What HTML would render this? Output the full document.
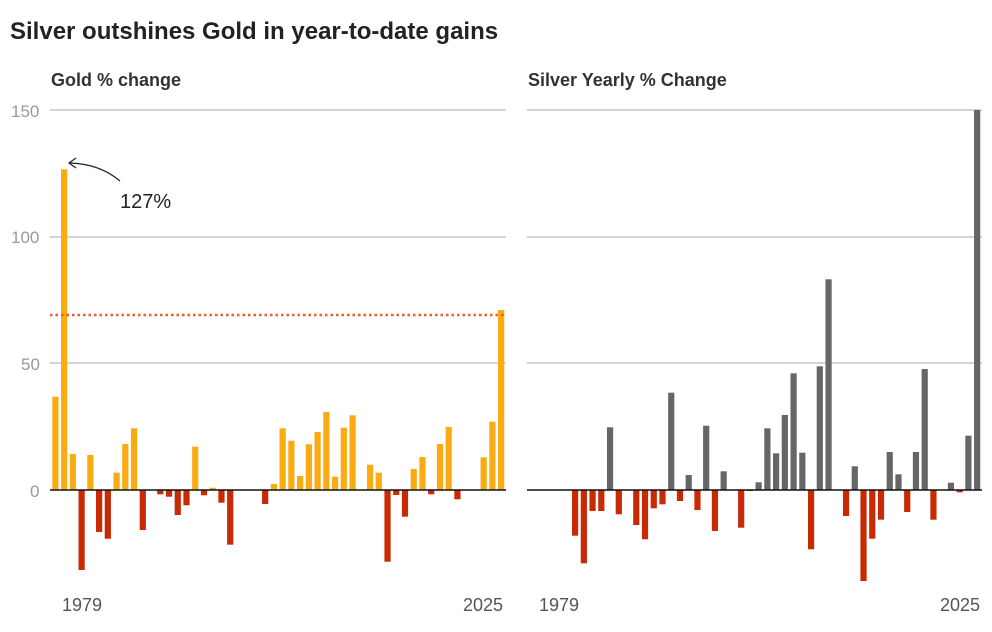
<!DOCTYPE html>
<html><head><meta charset="utf-8"><style>
html,body{margin:0;padding:0;background:#fff;}
svg{display:block;font-family:"Liberation Sans",sans-serif;}
</style></head><body>
<svg id="s" width="992" height="632" viewBox="0 0 992 632" xmlns="http://www.w3.org/2000/svg">
<text x="10" y="39" font-size="24" font-weight="bold" fill="#222">Silver outshines Gold in year-to-date gains</text>
<text x="51" y="86" font-size="18" font-weight="bold" fill="#333">Gold % change</text>
<text x="528" y="86" font-size="18" font-weight="bold" fill="#333">Silver Yearly % Change</text>
<g font-size="17" fill="#9a9a9a">
<text x="11" y="117">150</text>
<text x="11" y="243">100</text>
<text x="21" y="370">50</text>
<text x="30" y="497">0</text>
</g>
<g stroke="#bbb" stroke-width="1.3">
<line x1="50" y1="110" x2="506" y2="110"/><line x1="50" y1="237" x2="506" y2="237"/><line x1="50" y1="363" x2="506" y2="363"/>
<line x1="527" y1="110" x2="982" y2="110"/><line x1="527" y1="237" x2="982" y2="237"/><line x1="527" y1="363" x2="982" y2="363"/>
</g>
<g id="bars"></g>
<line x1="50" y1="315" x2="506" y2="315" stroke="#ee5a2a" stroke-width="2.5" stroke-dasharray="2.5 3"/>
<line x1="50" y1="490" x2="506" y2="490" stroke="#111" stroke-width="1.5"/>
<line x1="527" y1="490" x2="982" y2="490" stroke="#111" stroke-width="1.5"/>
<path d="M120 181 Q100 164 70 163" fill="none" stroke="#222" stroke-width="1.2"/>
<path d="M76 158 L69 163 L76 168" fill="none" stroke="#222" stroke-width="1.2"/>
<text x="120" y="208" font-size="20" fill="#222">127%</text>
<g font-size="18" fill="#555">
<text x="62" y="611">1979</text>
<text x="503" y="611" text-anchor="end">2025</text>
<text x="539" y="611">1979</text>
<text x="980" y="611" text-anchor="end">2025</text>
</g>
</svg>
<script>
var g=[396.7,169.3,454,570,455,532,538.7,472.7,444,428.3,530,490,494.3,496.7,515,505.3,446.7,495.3,487.7,502.7,544.7,490,490,490,504,484,428.3,440.7,476,444.3,432,412,476.7,427.7,415.3,490,464.7,472.7,561.7,495,516.7,469,457,494.3,444,427,499.3,490,490,457.3,421.7,310];
var s=[490,490,490,490,490,535.7,563.3,511,511,427.3,514.3,490,525,539.3,508.3,504.3,392.7,501,475,510,425.7,531,471.3,490,527.7,491,482.3,428.3,453.3,415,373.3,452.7,549.3,366.3,279.3,490,516,466.3,581,538.7,519.7,452,474.3,512,452,369,519.7,490,482.7,492.3,435.7,110];
var out="";
function add(arr,x0,pos){for(var i=0;i<arr.length;i++){var v=arr[i];if(Math.abs(v-490)<0.5)continue;var x=x0+i*8.74;var y=Math.min(v,490),h=Math.abs(v-490);out+='<rect x="'+x.toFixed(2)+'" y="'+y+'" width="6.2" height="'+h.toFixed(1)+'" fill="'+(v<490?pos:'#c82a06')+'"/>';}}
add(g,52.3,'#fbab12');add(s,528.3,'#666');
document.getElementById('bars').innerHTML=out;
</script>
</body></html>
